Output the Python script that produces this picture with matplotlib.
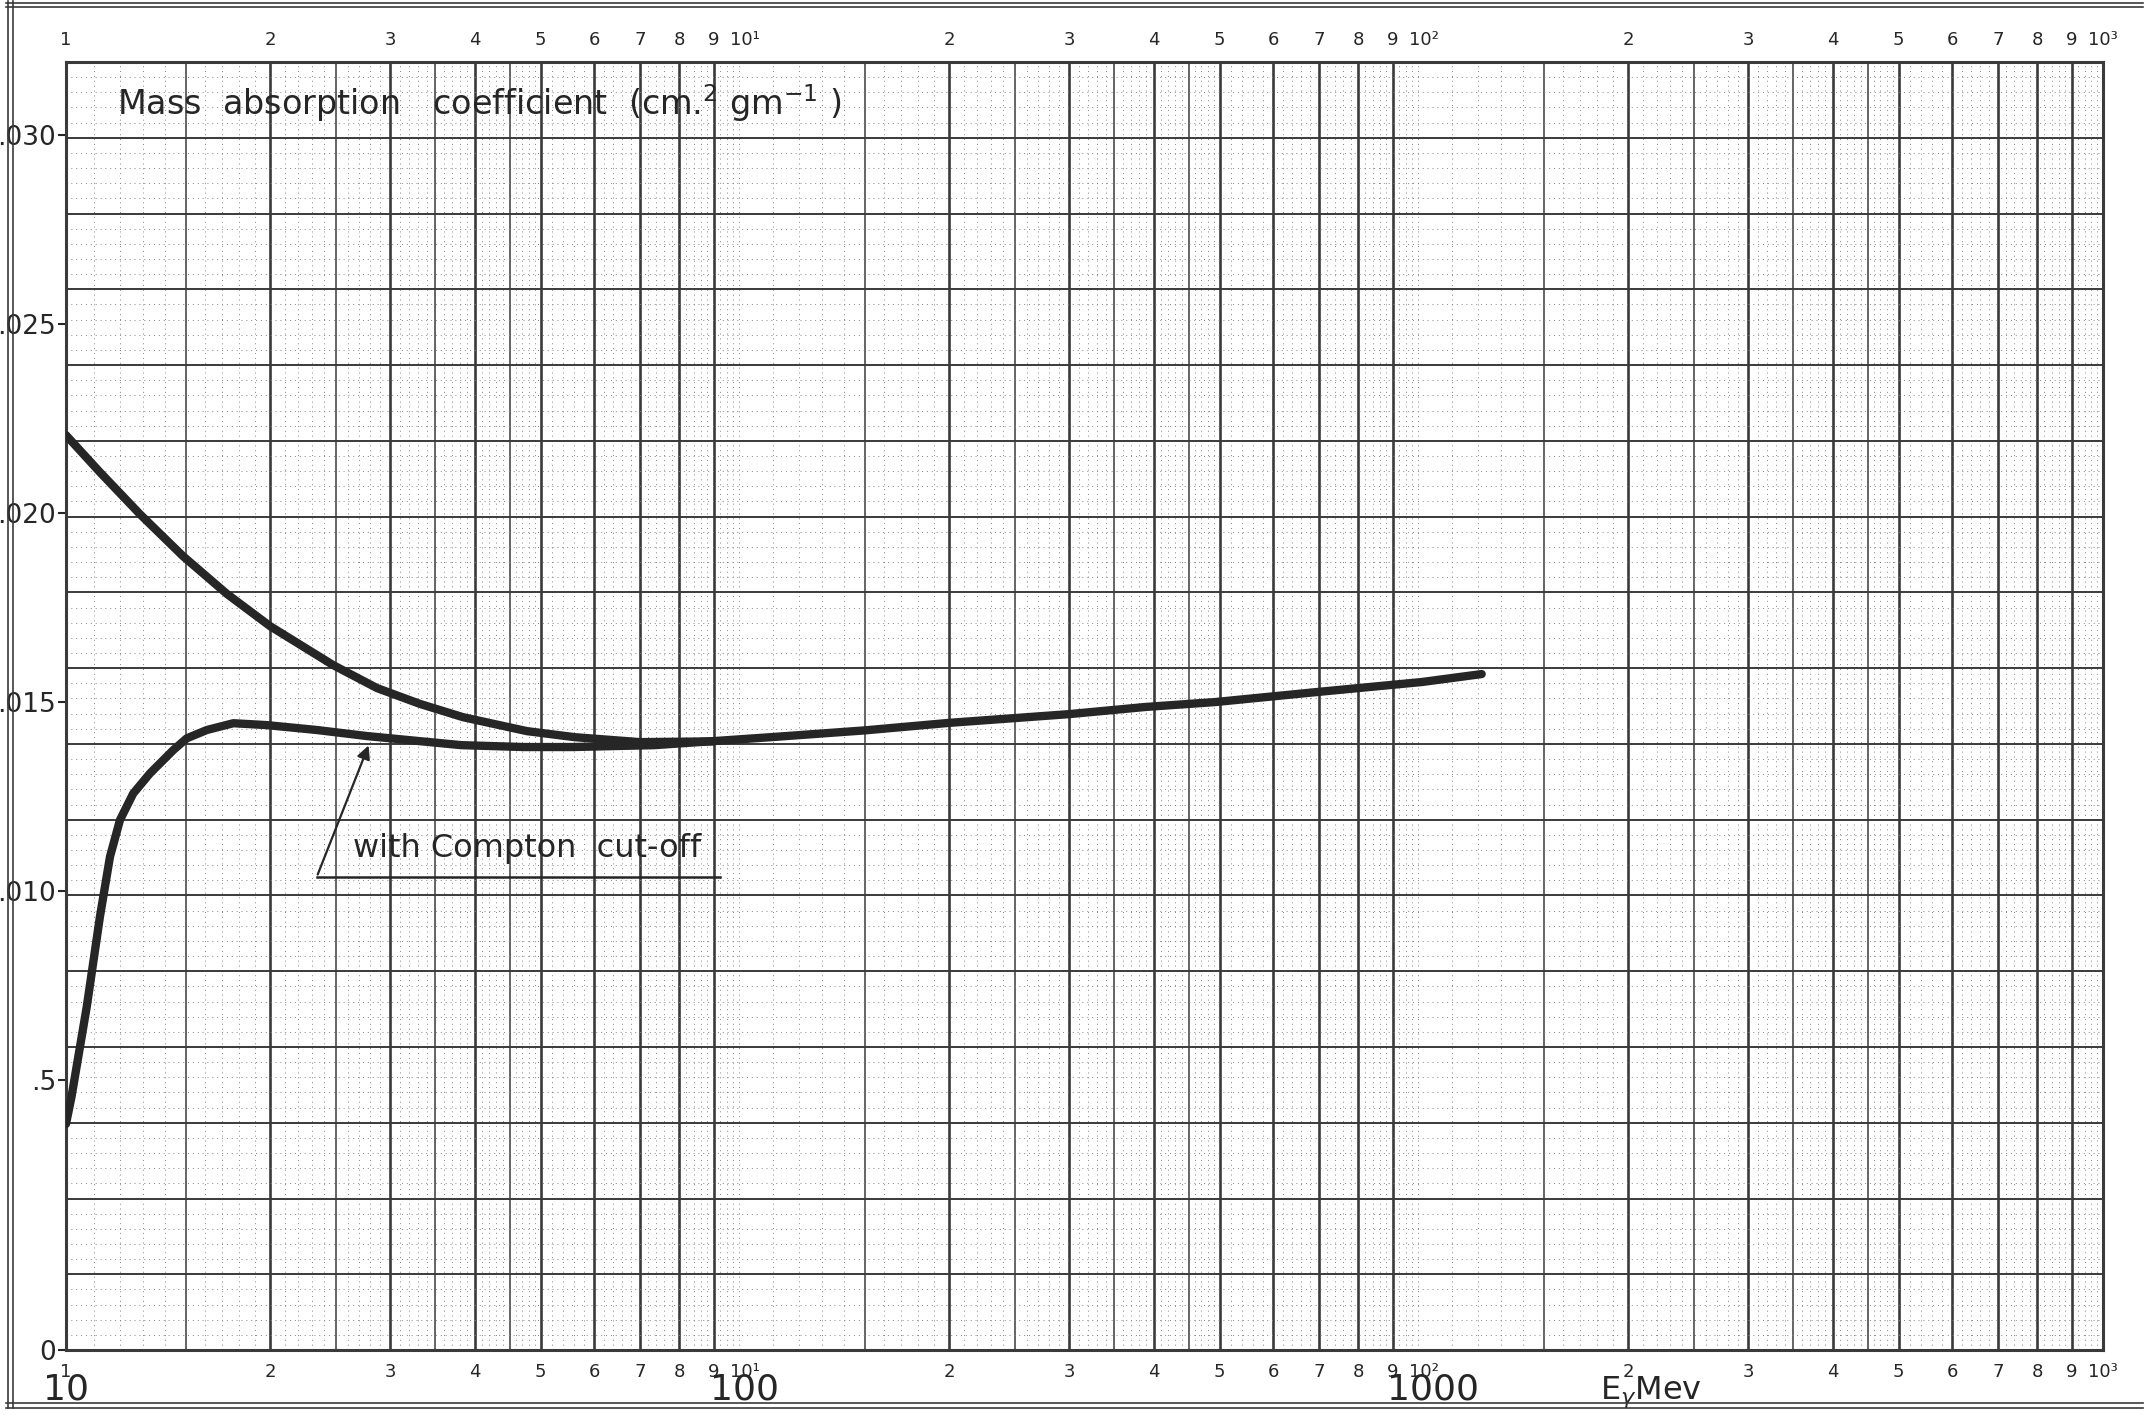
import numpy as np
import matplotlib
matplotlib.use("Agg")
import matplotlib.pyplot as plt
from matplotlib.lines import Line2D
from matplotlib.ticker import NullLocator, NullFormatter

# curve without Compton cut-off (upper branch, joins lower near 70-90 MeV)
E_upper = [10.0, 11.22, 12.85, 14.87, 17.26, 19.97, 24.73, 28.71, 33.22, 38.43,
           47.76, 56.19, 70.0, 90.0]
mu_upper = [0.02206, 0.02108, 0.01997, 0.01886, 0.01786, 0.01701, 0.01598, 0.01537,
            0.01495, 0.01460, 0.01423, 0.01407, 0.01394, 0.01396]

# curve with Compton cut-off
E_lower = [10.0, 10.19, 10.73, 11.22, 11.61, 12.01, 12.56, 13.29, 14.39, 15.06, 16.12,
           17.64, 19.75, 23.43, 27.76, 38.2, 47.2, 55.8, 73.6, 109, 150, 200, 300, 389,
           493, 691, 993, 1216]
mu_lower = [0.00384, 0.00456, 0.00694, 0.00932, 0.01091, 0.01188, 0.01258, 0.01311,
            0.01373, 0.01404, 0.01426, 0.01444, 0.01439, 0.01426, 0.01410, 0.01386,
            0.01381, 0.01381, 0.01386, 0.01407, 0.01425, 0.01445, 0.01468, 0.01487,
            0.01500, 0.01526, 0.01553, 0.01574]

y_ticks = [0.005, 0.010, 0.015, 0.020, 0.025, 0.030]
y_ticklabels = [".5", ".010", ".015", ".020", ".025", ".030"]

x_ticks = [m * 10 ** d for d in (1, 2, 3) for m in range(1, 10)] + [10000]
x_ticklabels = (["1"] + [str(m) for m in range(2, 10)]
                + ["10¹"] + [str(m) for m in range(2, 10)]
                + ["10²"] + [str(m) for m in range(2, 10)] + ["10³"])

big_labels = ["10", "100", "1000"]
big_pos = [10, 100, 1030]

ink = "#262626"
paper = "#3a3a3a"
dots = "#858585"

ylo, yhi = -0.00214, 0.03193

fig = plt.figure(figsize=(21.49, 14.15), dpi=100)
ax = fig.add_axes([0.0307, 0.0459, 0.9479, 0.9103])
ax.set_xscale("log")
ax.set_xlim(10, 10000)
ax.set_ylim(ylo, yhi)

# graph paper: vertical lines
for d in (10, 100, 1000):
    for m in range(2, 10):
        ax.axvline(m * d, color=paper, lw=1.9, zorder=1)
    for m in (1.5, 2.5, 3.5, 4.5):
        ax.axvline(m * d, color=paper, lw=1.1, zorder=1)
    for m in np.arange(1.1, 5.0, 0.1):
        if abs(m * 2 - round(m * 2)) > 1e-6:
            ax.axvline(m * d, color=dots, lw=0.7, ls=(0, (1, 4)), zorder=1)
    for m in np.arange(5.2, 10.0, 0.2):
        if abs(m - round(m)) > 1e-6:
            ax.axvline(m * d, color=dots, lw=0.7, ls=(0, (1, 4)), zorder=1)

# graph paper: horizontal lines (17 divisions, 5 sub-divisions)
step = (yhi - ylo) / 85
for k in range(1, 85):
    y = ylo + k * step
    if k % 5 == 0:
        ax.axhline(y, color=paper, lw=1.4, zorder=1)
    else:
        ax.axhline(y, color=dots, lw=0.7, ls=(0, (1, 4)), zorder=1)

for s in ax.spines.values():
    s.set_linewidth(2.2)
    s.set_color(paper)

# curves
ax.plot(E_upper, mu_upper, color=ink, lw=6, solid_capstyle="round",
        solid_joinstyle="round", zorder=3)
ax.plot(E_lower, mu_lower, color=ink, lw=6, solid_capstyle="round",
        solid_joinstyle="round", zorder=3)

# ticks
ax.set_yticks([ylo] + y_ticks)
ax.set_yticklabels(["0"] + y_ticklabels, fontsize=19, color=ink)
ax.tick_params(axis="y", direction="out", length=6, width=1.5, pad=1, colors=ink)

ax.set_xticks(x_ticks)
ax.set_xticklabels(x_ticklabels, fontsize=13, color=ink)
ax.xaxis.set_minor_locator(NullLocator())
ax.xaxis.set_minor_formatter(NullFormatter())
ax.tick_params(axis="x", length=0, top=True, labeltop=True, pad=9)

# big hand-written numbers under the axis
for lab, xp in zip(big_labels, big_pos):
    ax.text(xp, -0.031, lab, transform=ax.get_xaxis_transform(), ha="center", va="center",
            fontsize=26, color=ink)

ax.text(1816, -0.033, r"E$_\gamma$Mev", transform=ax.get_xaxis_transform(), ha="left",
        va="center", fontsize=23, color=ink)

# title inside the chart
ax.text(0.025, 0.968, r"Mass  absorption   coefficient  (cm.$^{2}$ gm$^{-1}$ )",
        transform=ax.transAxes, ha="left", va="center", fontsize=24, color=ink, zorder=4)

# annotation
ax.annotate("", xy=(28.0, 0.01392), xytext=(23.4, 0.01037),
            arrowprops=dict(arrowstyle="-|>", lw=1.6, color=ink, mutation_scale=20),
            zorder=4)
ax.plot([23.4, 91.8], [0.01037, 0.01037], color=ink, lw=1.8, zorder=4)
ax.text(26.5, 0.01112, "with Compton  cut-off", ha="left", va="center",
        fontsize=23, color=ink, zorder=4)

# scanned sheet frame
for xf in (8 / 2149, 13 / 2149):
    fig.add_artist(Line2D([xf, xf], [0.005, 0.999], color=paper, lw=1.2))
for yf in (1 - 3 / 1415, 1 - 7 / 1415, 1 - 1403 / 1415, 1 - 1408 / 1415):
    fig.add_artist(Line2D([0.003, 0.997], [yf, yf], color=paper, lw=1.2))

fig.savefig("out.png", dpi=100, facecolor="white")
